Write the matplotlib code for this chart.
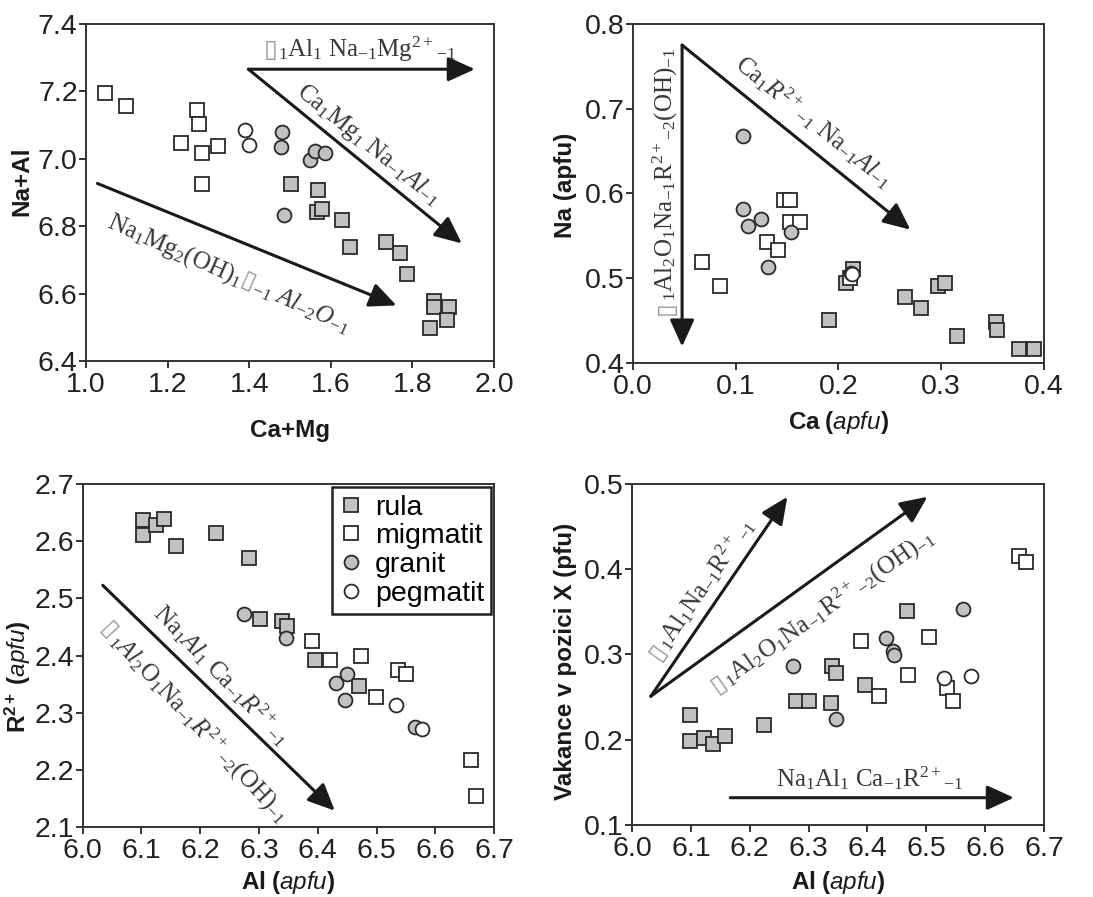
import numpy as np
import matplotlib
matplotlib.use("Agg")
import matplotlib.pyplot as plt
from matplotlib.transforms import IdentityTransform

plt.rcParams["font.family"] = ["Liberation Sans", "DejaVu Sans"]
plt.rcParams["mathtext.fontset"] = "custom"
plt.rcParams["mathtext.rm"] = "Liberation Serif"
plt.rcParams["mathtext.it"] = "Liberation Serif:italic"
plt.rcParams["mathtext.bf"] = "Liberation Sans:bold"
plt.rcParams["mathtext.sf"] = "Liberation Sans:italic"

# --- data ---
# graf 1: Ca+Mg vs Na+Al
p1_rula_x = [1.502, 1.569, 1.565, 1.578, 1.628, 1.646, 1.734, 1.769, 1.786, 1.854, 1.854, 1.889, 1.884, 1.843]
p1_rula_y = [6.925, 6.909, 6.841, 6.850, 6.818, 6.738, 6.752, 6.721, 6.657, 6.577, 6.561, 6.560, 6.521, 6.499]
p1_mig_x = [1.047, 1.098, 1.273, 1.277, 1.234, 1.285, 1.323, 1.285]
p1_mig_y = [7.194, 7.156, 7.145, 7.103, 7.048, 7.016, 7.038, 6.925]
p1_gra_x = [1.480, 1.477, 1.549, 1.561, 1.586, 1.485]
p1_gra_y = [7.081, 7.034, 6.996, 7.024, 7.017, 6.833]
p1_peg_x = [1.390, 1.399]
p1_peg_y = [7.087, 7.042]

# graf 2: Ca vs Na
p2_rula_x = [0.191, 0.2075, 0.214, 0.265, 0.280, 0.297, 0.304, 0.315, 0.353, 0.354, 0.376, 0.390]
p2_rula_y = [0.450, 0.494, 0.511, 0.477, 0.465, 0.490, 0.494, 0.431, 0.448, 0.439, 0.416, 0.416]
p2_mig_x = [0.067, 0.085, 0.1475, 0.153, 0.153, 0.163, 0.131, 0.141, 0.211]
p2_mig_y = [0.519, 0.491, 0.592, 0.592, 0.566, 0.566, 0.543, 0.533, 0.500]
p2_gra_x = [0.107, 0.107, 0.1125, 0.125, 0.154, 0.132]
p2_gra_y = [0.668, 0.582, 0.561, 0.570, 0.554, 0.513]
p2_peg_x = [0.212, 0.213]
p2_peg_y = [0.506, 0.505]

# graf 3: Al vs R2+
p3_rula_x = [6.102, 6.102, 6.125, 6.139, 6.158, 6.227, 6.283, 6.301, 6.339, 6.348, 6.396, 6.470]
p3_rula_y = [2.637, 2.611, 2.628, 2.639, 2.592, 2.615, 2.570, 2.464, 2.461, 2.451, 2.392, 2.347]
p3_mig_x = [6.390, 6.420, 6.473, 6.537, 6.550, 6.499, 6.661, 6.670]
p3_mig_y = [2.426, 2.392, 2.399, 2.375, 2.368, 2.327, 2.218, 2.154]
p3_gra_x = [6.275, 6.346, 6.431, 6.450, 6.447, 6.565]
p3_gra_y = [2.473, 2.431, 2.352, 2.368, 2.323, 2.275]
p3_peg_x = [6.533, 6.578]
p3_peg_y = [2.314, 2.271]

# graf 4: Al vs vakance v pozici X
p4_rula_x = [6.0985, 6.0985, 6.122, 6.137, 6.158, 6.225, 6.279, 6.301, 6.340, 6.346, 6.338, 6.396, 6.467]
p4_rula_y = [0.229, 0.198, 0.202, 0.195, 0.204, 0.217, 0.245, 0.245, 0.287, 0.278, 0.243, 0.264, 0.351]
p4_mig_x = [6.389, 6.419, 6.469, 6.505, 6.535, 6.546, 6.658, 6.669]
p4_mig_y = [0.316, 0.251, 0.276, 0.320, 0.261, 0.245, 0.4155, 0.408]
p4_gra_x = [6.273, 6.346, 6.431, 6.444, 6.445, 6.562]
p4_gra_y = [0.286, 0.224, 0.319, 0.304, 0.299, 0.353]
p4_peg_x = [6.531, 6.576]
p4_peg_y = [0.273, 0.275]

BOX = "\u25AF"
TXT = "#383838"
GREY = "#c2c2c2"
EDGE = "#2a2a2a"

fig = plt.figure(figsize=(10.93, 8.97), dpi=100)
ax1 = fig.add_axes([0.0787, 0.5975, 0.3733, 0.3757])
ax2 = fig.add_axes([0.5789, 0.5957, 0.3763, 0.3776])
ax3 = fig.add_axes([0.0757, 0.0777, 0.3763, 0.3827])
ax4 = fig.add_axes([0.5782, 0.0803, 0.3769, 0.3801])


def style(ax, xlim, ylim, xt, yt):
    ax.set_xlim(xlim)
    ax.set_ylim(ylim)
    ax.set_xticks(xt)
    ax.set_yticks(yt)
    ax.set_xticklabels(["%.1f" % v for v in xt])
    ax.set_yticklabels(["%.1f" % v for v in yt])
    for s in ax.spines.values():
        s.set_color("#333333")
        s.set_linewidth(1.4)
    ax.tick_params(direction="out", length=5, width=1.4, color="#333333",
                   labelsize=20.5, labelcolor="#222222")
    ax.tick_params(axis="x", pad=3)
    ax.tick_params(axis="y", pad=1)


def points(ax, rx, ry, mx, my, gx, gy, px, py):
    ax.plot(rx, ry, ls="none", marker="s", ms=10.5, mfc=GREY, mec=EDGE, mew=1.3, label="rula")
    ax.plot(mx, my, ls="none", marker="s", ms=10.5, mfc="white", mec=EDGE, mew=1.3, label="migmatit")
    ax.plot(gx, gy, ls="none", marker="o", ms=10, mfc=GREY, mec=EDGE, mew=1.3, label="granit")
    ax.plot(px, py, ls="none", marker="o", ms=10, mfc="white", mec=EDGE, mew=1.3, label="pegmatit")


def arrow(ax, x0, y0, x1, y1):
    ax.annotate("", xy=(x1, y1), xytext=(x0, y0),
                arrowprops=dict(arrowstyle="-|>,head_length=1.1,head_width=0.5",
                                mutation_scale=15, lw=2.2, color="#1a1a1a",
                                shrinkA=0, shrinkB=0))


def chain(ax, xc, yc, ang, parts, size=18):
    # text poskladany z kousku (ctverecek sede, zbytek tmave), stred v datech
    r = fig.canvas.get_renderer()
    widths = []
    for s, c, fam in parts:
        t = fig.text(0, 0, s, fontsize=size, family=fam)
        widths.append(t.get_window_extent(r).width)
        t.remove()
    a = np.deg2rad(ang)
    d = np.array([np.cos(a), np.sin(a)])
    u = np.array([-np.sin(a), np.cos(a)])
    p = ax.transData.transform((xc, yc)) - sum(widths) / 2 * d - 0.33 * size * fig.dpi / 72 * u
    for (s, c, fam), w in zip(parts, widths):
        fig.text(p[0], p[1], s, fontsize=size, color=c, family=fam, rotation=ang,
                 rotation_mode="anchor", ha="left", va="baseline",
                 transform=IdentityTransform())
        p = p + w * d


def bx():
    return (BOX, "#9a9a9a", "DejaVu Sans")


def tx(s):
    return (s, TXT, "Liberation Serif")


style(ax1, (1.0, 2.0), (6.4, 7.4), [1.0, 1.2, 1.4, 1.6, 1.8, 2.0], [6.4, 6.6, 6.8, 7.0, 7.2, 7.4])
style(ax2, (0.0, 0.4), (0.4, 0.8), [0.0, 0.1, 0.2, 0.3, 0.4], [0.4, 0.5, 0.6, 0.7, 0.8])
style(ax3, (6.0, 6.7), (2.1, 2.7), [6.0, 6.1, 6.2, 6.3, 6.4, 6.5, 6.6, 6.7], [2.1, 2.2, 2.3, 2.4, 2.5, 2.6, 2.7])
style(ax4, (6.0, 6.7), (0.1, 0.5), [6.0, 6.1, 6.2, 6.3, 6.4, 6.5, 6.6, 6.7], [0.1, 0.2, 0.3, 0.4, 0.5])

points(ax1, p1_rula_x, p1_rula_y, p1_mig_x, p1_mig_y, p1_gra_x, p1_gra_y, p1_peg_x, p1_peg_y)
points(ax2, p2_rula_x, p2_rula_y, p2_mig_x, p2_mig_y, p2_gra_x, p2_gra_y, p2_peg_x, p2_peg_y)
points(ax3, p3_rula_x, p3_rula_y, p3_mig_x, p3_mig_y, p3_gra_x, p3_gra_y, p3_peg_x, p3_peg_y)
points(ax4, p4_rula_x, p4_rula_y, p4_mig_x, p4_mig_y, p4_gra_x, p4_gra_y, p4_peg_x, p4_peg_y)

lab = dict(fontsize=17.5, fontweight="bold", color="#1a1a1a")
apfu = r"$\mathbf{%s\ (}\mathsf{apfu}\mathbf{)}$"
ax1.set_xlabel("Ca+Mg", **lab)
ax1.set_ylabel("Na+Al", **lab)
ax2.set_xlabel(apfu % "Ca", **lab)
ax2.set_ylabel("Na (apfu)", **lab)
ax3.set_xlabel(apfu % "Al", **lab)
ax3.set_ylabel(apfu % "R^{2+}", **lab)
ax4.set_xlabel(apfu % "Al", **lab)
ax4.set_ylabel("Vakance v pozici X (pfu)", **lab)
ax1.xaxis.set_label_coords(0.5, -0.172)
ax2.xaxis.set_label_coords(0.5, -0.138)
ax3.xaxis.set_label_coords(0.5, -0.122)
ax4.xaxis.set_label_coords(0.5, -0.130)
ax1.yaxis.set_label_coords(-0.13, 0.533)
ax2.yaxis.set_label_coords(-0.136, 0.524)
ax3.yaxis.set_label_coords(-0.122, 0.44)
ax4.yaxis.set_label_coords(-0.134, 0.481)

leg = ax3.legend(loc="upper right", bbox_to_anchor=(0.993, 0.99), borderaxespad=0,
                 fontsize=20.5, frameon=True, fancybox=False, framealpha=1,
                 handlelength=0.8, handletextpad=0.45, labelspacing=0.1, borderpad=0.25)
leg.get_frame().set_edgecolor("#222222")
leg.get_frame().set_linewidth(1.8)

# sipky
arrow(ax1, 1.398, 7.266, 1.953, 7.266)
arrow(ax1, 1.398, 7.266, 1.921, 6.749)
arrow(ax1, 1.028, 6.927, 1.761, 6.565)
arrow(ax2, 0.048, 0.775, 0.048, 0.419)
arrow(ax2, 0.048, 0.775, 0.270, 0.557)
arrow(ax3, 6.034, 2.523, 6.429, 2.129)
arrow(ax4, 6.032, 0.251, 6.264, 0.485)
arrow(ax4, 6.032, 0.251, 6.502, 0.485)
arrow(ax4, 6.167, 0.132, 6.649, 0.132)

# popisky vektoru
chain(ax1, 1.671, 7.327, 0, [bx(), tx(r"${}_{1}\mathrm{Al}_{1}\ \mathrm{Na}_{-1}\mathrm{Mg}^{2+}{}_{-1}$")])
chain(ax1, 1.696, 7.046, -39, [tx(r"$\mathrm{Ca}_{1}\mathrm{Mg}_{1}\ \mathrm{Na}_{-1}\mathit{Al}_{-1}$")])
chain(ax1, 1.353, 6.664, -24, [tx(r"$\mathrm{Na}_{1}\mathrm{Mg}_{2}\mathrm{(OH)}_{1}\ $"), bx(),
                               tx(r"${}_{-1}\ \mathit{Al}_{-2}\mathit{O}_{-1}$")])
chain(ax2, 0.1767, 0.6847, -39, [tx(r"$\mathrm{Ca}_{1}\mathit{R}^{2+}{}_{-1}\ \mathrm{Na}_{-1}\mathit{Al}_{-1}$")])
chain(ax2, 0.0308, 0.614, 90, [bx(), tx(r"${}_{1}\mathrm{Al}_{2}\mathrm{O}_{1}\mathrm{Na}_{-1}\mathrm{R}^{2+}{}_{-2}\mathrm{(OH)}_{-1}$")])
chain(ax3, 6.2365, 2.366, -46, [tx(r"$\mathrm{Na}_{1}\mathit{Al}_{1}\ \mathrm{Ca}_{-1}\mathit{R}^{2+}{}_{-1}$")])
chain(ax3, 6.191, 2.285, -47, [bx(), tx(r"${}_{1}\mathit{Al}_{2}\mathrm{O}_{1}\mathrm{Na}_{-1}\mathit{R}^{2+}{}_{-2}\mathrm{(OH)}_{-1}$")])
chain(ax4, 6.117, 0.3776, 55, [bx(), tx(r"${}_{1}\mathrm{Al}_{1}\mathrm{Na}_{-1}\mathrm{R}^{2+}{}_{-1}$")])
chain(ax4, 6.323, 0.352, 35, [bx(), tx(r"${}_{1}\mathrm{Al}_{2}\mathrm{O}_{1}\mathrm{Na}_{-1}\mathrm{R}^{2+}{}_{-2}\mathrm{(OH)}_{-1}$")])
chain(ax4, 6.404, 0.1547, 0, [tx(r"$\mathrm{Na}_{1}\mathrm{Al}_{1}\ \mathrm{Ca}_{-1}\mathrm{R}^{2+}{}_{-1}$")])

fig.savefig("out.png", dpi=100)
